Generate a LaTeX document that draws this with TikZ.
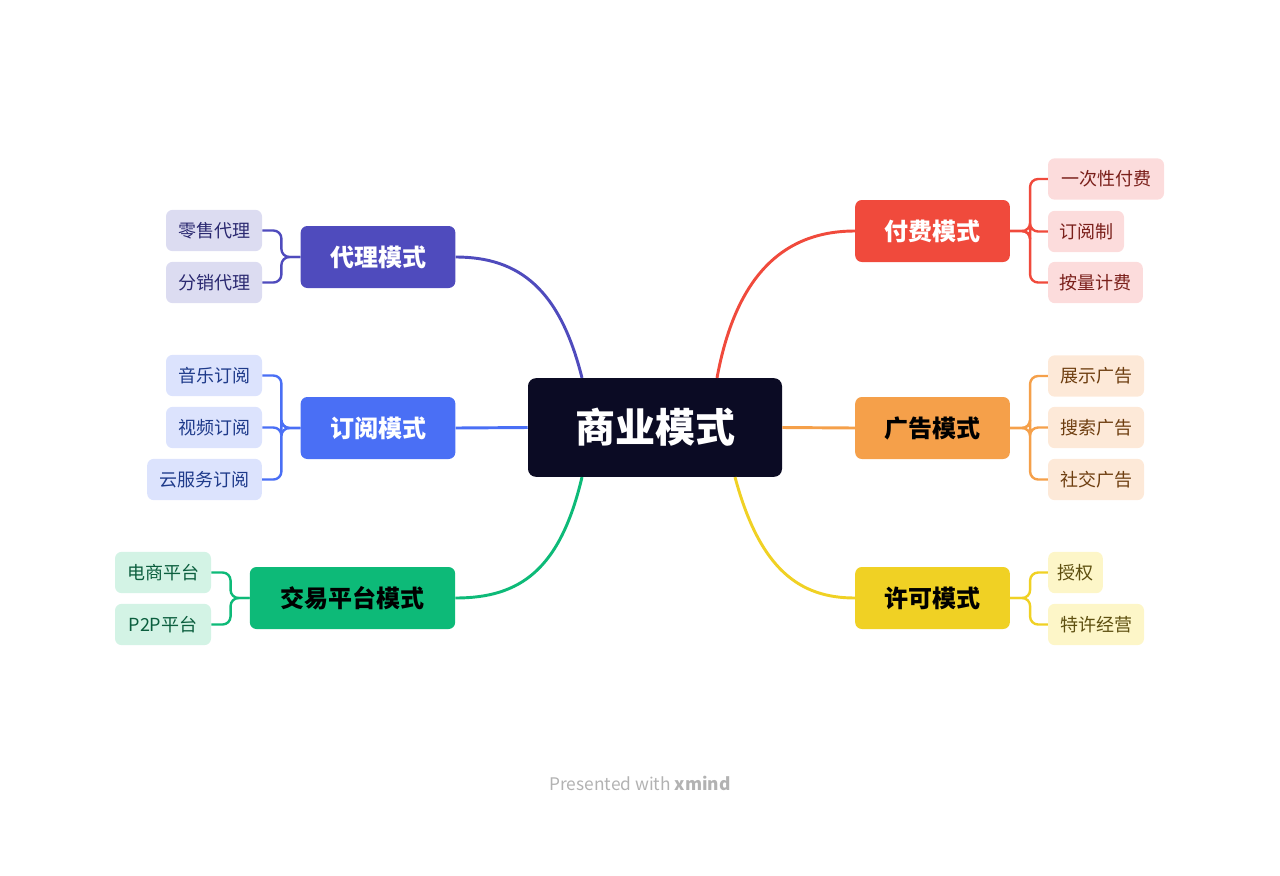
\documentclass[tikz,border=0pt]{standalone}
\usepackage{fontspec}
\setmainfont{Noto Sans CJK SC}
\usetikzlibrary{calc}
\definecolor{cen}{HTML}{0B0B24}
\definecolor{red1}{HTML}{F04A3C}\definecolor{red2}{HTML}{FCDCDC}\definecolor{red3}{HTML}{7A1F1A}
\definecolor{org1}{HTML}{F5A04A}\definecolor{org2}{HTML}{FDE9D8}\definecolor{org3}{HTML}{6E3E10}
\definecolor{yel1}{HTML}{F0D124}\definecolor{yel2}{HTML}{FDF6C8}\definecolor{yel3}{HTML}{5E5010}
\definecolor{pur1}{HTML}{4F4BBD}\definecolor{pur2}{HTML}{DCDCF1}\definecolor{pur3}{HTML}{2A2870}
\definecolor{blu1}{HTML}{4A6FF5}\definecolor{blu2}{HTML}{DCE3FD}\definecolor{blu3}{HTML}{1E3A8A}
\definecolor{grn1}{HTML}{0DBA78}\definecolor{grn2}{HTML}{D3F3E5}\definecolor{grn3}{HTML}{0B5E3E}
\begin{document}
\begin{tikzpicture}[x=0.75pt,y=-0.75pt,
  par/.style={rounded corners=5pt,minimum height=46.5pt,inner sep=0pt,text=white,font=\fontsize{18}{20}\selectfont\bfseries},
  chi/.style={rounded corners=5pt,minimum height=31pt,inner sep=0pt,font=\fontsize{13.5}{15}\selectfont},
  lnk/.style={line width=2.2pt},
  br/.style={line width=1.8pt,rounded corners=6pt}]
\useasboundingbox (0,0) rectangle (1280,875);
\node[fill=cen,rounded corners=6pt,minimum width=190.5pt,minimum height=74pt,text=white,font=\fontsize{30}{32}\selectfont\bfseries] (c) at (655,427.5) {商业模式};
% right parents
\node[par,fill=red1,minimum width=116pt] (p1) at (932.5,231) {付费模式};
\node[par,fill=org1,minimum width=116pt,text=black] (p2) at (932.5,428) {广告模式};
\node[par,fill=yel1,minimum width=116pt,text=black] (p3) at (932.5,598) {许可模式};
\node[par,fill=pur1,minimum width=116pt] (p4) at (378,257) {代理模式};
\node[par,fill=blu1,minimum width=116pt] (p5) at (378,428) {订阅模式};
\node[par,fill=grn1,minimum width=154pt,text=black] (p6) at (352.5,598) {交易平台模式};
% main links
\draw[lnk,red1] ($(c.north)+(62,0)$) .. controls (735,280) and (780,231) .. (p1.west);
\draw[lnk,org1] (c.east) -- (p2.west);
\draw[lnk,yel1] ($(c.south)+(80,0)$) .. controls (760,570) and (800,598) .. (p3.west);
\draw[lnk,pur1] ($(c.north)+(-73,0)$) .. controls (560,290) and (520,257) .. (p4.east);
\draw[lnk,blu1] (c.west) -- (p5.east);
\draw[lnk,grn1] ($(c.south)+(-73,0)$) .. controls (560,570) and (520,598) .. (p6.east);
% children
\newcommand{\rch}[6]{\node[chi,fill=#3,text=#4,minimum width=#5pt] (#1) at (#2) {#6};}
\rch{a1}{1106,179}{red2}{red3}{87}{一次性付费}
\rch{a2}{1086,231.5}{red2}{red3}{57}{订阅制}
\rch{a3}{1095.5,282.5}{red2}{red3}{71}{按量计费}
\rch{b1}{1096,376}{org2}{org3}{72}{展示广告}
\rch{b2}{1096,427.5}{org2}{org3}{72}{搜索广告}
\rch{b3}{1096,479.5}{org2}{org3}{72}{社交广告}
\rch{d1}{1075.5,572.5}{yel2}{yel3}{41}{授权}
\rch{d2}{1096,624.5}{yel2}{yel3}{72}{特许经营}
\rch{e1}{214,230.5}{pur2}{pur3}{72}{零售代理}
\rch{e2}{214,282.5}{pur2}{pur3}{72}{分销代理}
\rch{f1}{214,375.5}{blu2}{blu3}{72}{音乐订阅}
\rch{f2}{214,427.5}{blu2}{blu3}{72}{视频订阅}
\rch{f3}{204.5,479.5}{blu2}{blu3}{86}{云服务订阅}
\rch{g1}{163,572.5}{grn2}{grn3}{72}{电商平台}
\rch{g2}{163,624.5}{grn2}{grn3}{72}{P2P平台}
\foreach \ch in {a1,a2,a3} \draw[br,red1] (p1.east) -- ++(20,0) |- (\ch.west);
\foreach \ch in {b1,b2,b3} \draw[br,org1] (p2.east) -- ++(20,0) |- (\ch.west);
\foreach \ch in {d1,d2} \draw[br,yel1] (p3.east) -- ++(20,0) |- (\ch.west);
\foreach \ch in {e1,e2} \draw[br,pur1] (p4.west) -- ++(-19,0) |- (\ch.east);
\foreach \ch in {f1,f2,f3} \draw[br,blu1] (p5.west) -- ++(-19,0) |- (\ch.east);
\foreach \ch in {g1,g2} \draw[br,grn1] (p6.west) -- ++(-19,0) |- (\ch.east);
\node[text=black!30,font=\fontsize{13}{14}\selectfont] (ft) at (640,783) {Presented with \textbf{xmind}};
\end{tikzpicture}
\end{document}
